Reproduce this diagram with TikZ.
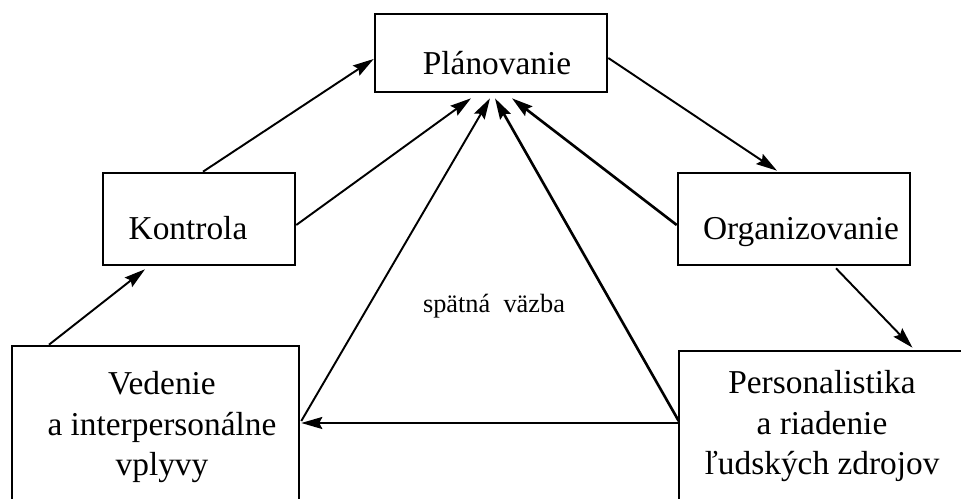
\documentclass[tikz,border=0pt]{standalone}
\usepackage{fontspec}
\setmainfont{Liberation Serif}
\usepackage{tikz}
\usetikzlibrary{arrows.meta,calc}

\begin{document}
\begin{tikzpicture}[x=0.02cm, y=-0.02cm,
    every node/.style={font=\fontsize{19}{23.3}\selectfont},
    box/.style={draw, rectangle, line width=1.5pt, inner sep=0pt},
    txt/.style={inner sep=0pt, anchor=base},
    arr/.style={-{Stealth[length=4.2mm, width=2.4mm, inset=0.6mm]}, line width=1.1pt},
    heavyarr/.style={arr, line width=1.5pt}]
    \path[use as bounding box, clip] (0,0) rectangle (961,499);

    % Boxes
    \node[box, minimum width=4.64cm, minimum height=1.56cm] (plan) at (491,53) {};
    \node[box, minimum width=3.84cm, minimum height=1.84cm] (kontr) at (199,219) {};
    \node[box, minimum width=4.64cm, minimum height=1.84cm] (org) at (794,219) {};
    \node[box, minimum width=5.74cm, minimum height=3.48cm] (ved) at (155.5,433) {};
    \node[box, minimum width=6.42cm, minimum height=3.38cm] (pers) at (839.5,435.5) {};

    % Labels (base = last line for the multi-line ones)
    \node[txt] (plan-t) at (497,75) {Plánovanie};
    \node[txt] (kontr-t) at (188,240) {Kontrola};
    \node[txt] (org-t) at (801,240) {Organizovanie};
    \node[txt, align=center] (ved-t) at (162,476) {Vedenie\\a interpersonálne\\vplyvy};
    \node[txt, align=center] (pers-t) at (822,475) {Personalistika\\a riadenie\\ľudských zdrojov};
    \node[txt, font=\fontsize{15}{18}\selectfont] (fb) at (494,313) {spätná~~väzba};

    % Arrows to Planovanie
    \draw[arr] ($(kontr.north)+(4,0)$) -- ($(plan.west)+(0,6)$);
    \draw[arr] ($(kontr.east)+(0,6)$) -- ($(plan.south)+(-20,5)$);
    \draw[arr] ($(ved.east)+(1,-12)$) -- ($(plan.south)+(-1,5)$);
    \draw[heavyarr] ($(pers.west)+(1,-14.5)$) -- ($(plan.south)+(4,5)$);
    \draw[heavyarr] ($(org.west)+(0,6)$) -- ($(plan.south)+(21,5)$);

    % Cycle
    \draw[arr] ($(plan.east)+(0,5)$) -- ($(org.north)+(-17,-1)$);
    \draw[arr] ($(org.south)+(42,2)$) -- ($(pers.north)+(73,-2)$);
    \draw[arr] ($(pers.west)+(2,-12.5)$) -- ($(ved.east)+(1,-10)$);
    \draw[arr] ($(ved.north)+(-106.5,0)$) -- ($(kontr.south)+(-54,3)$);
\end{tikzpicture}
\end{document}
